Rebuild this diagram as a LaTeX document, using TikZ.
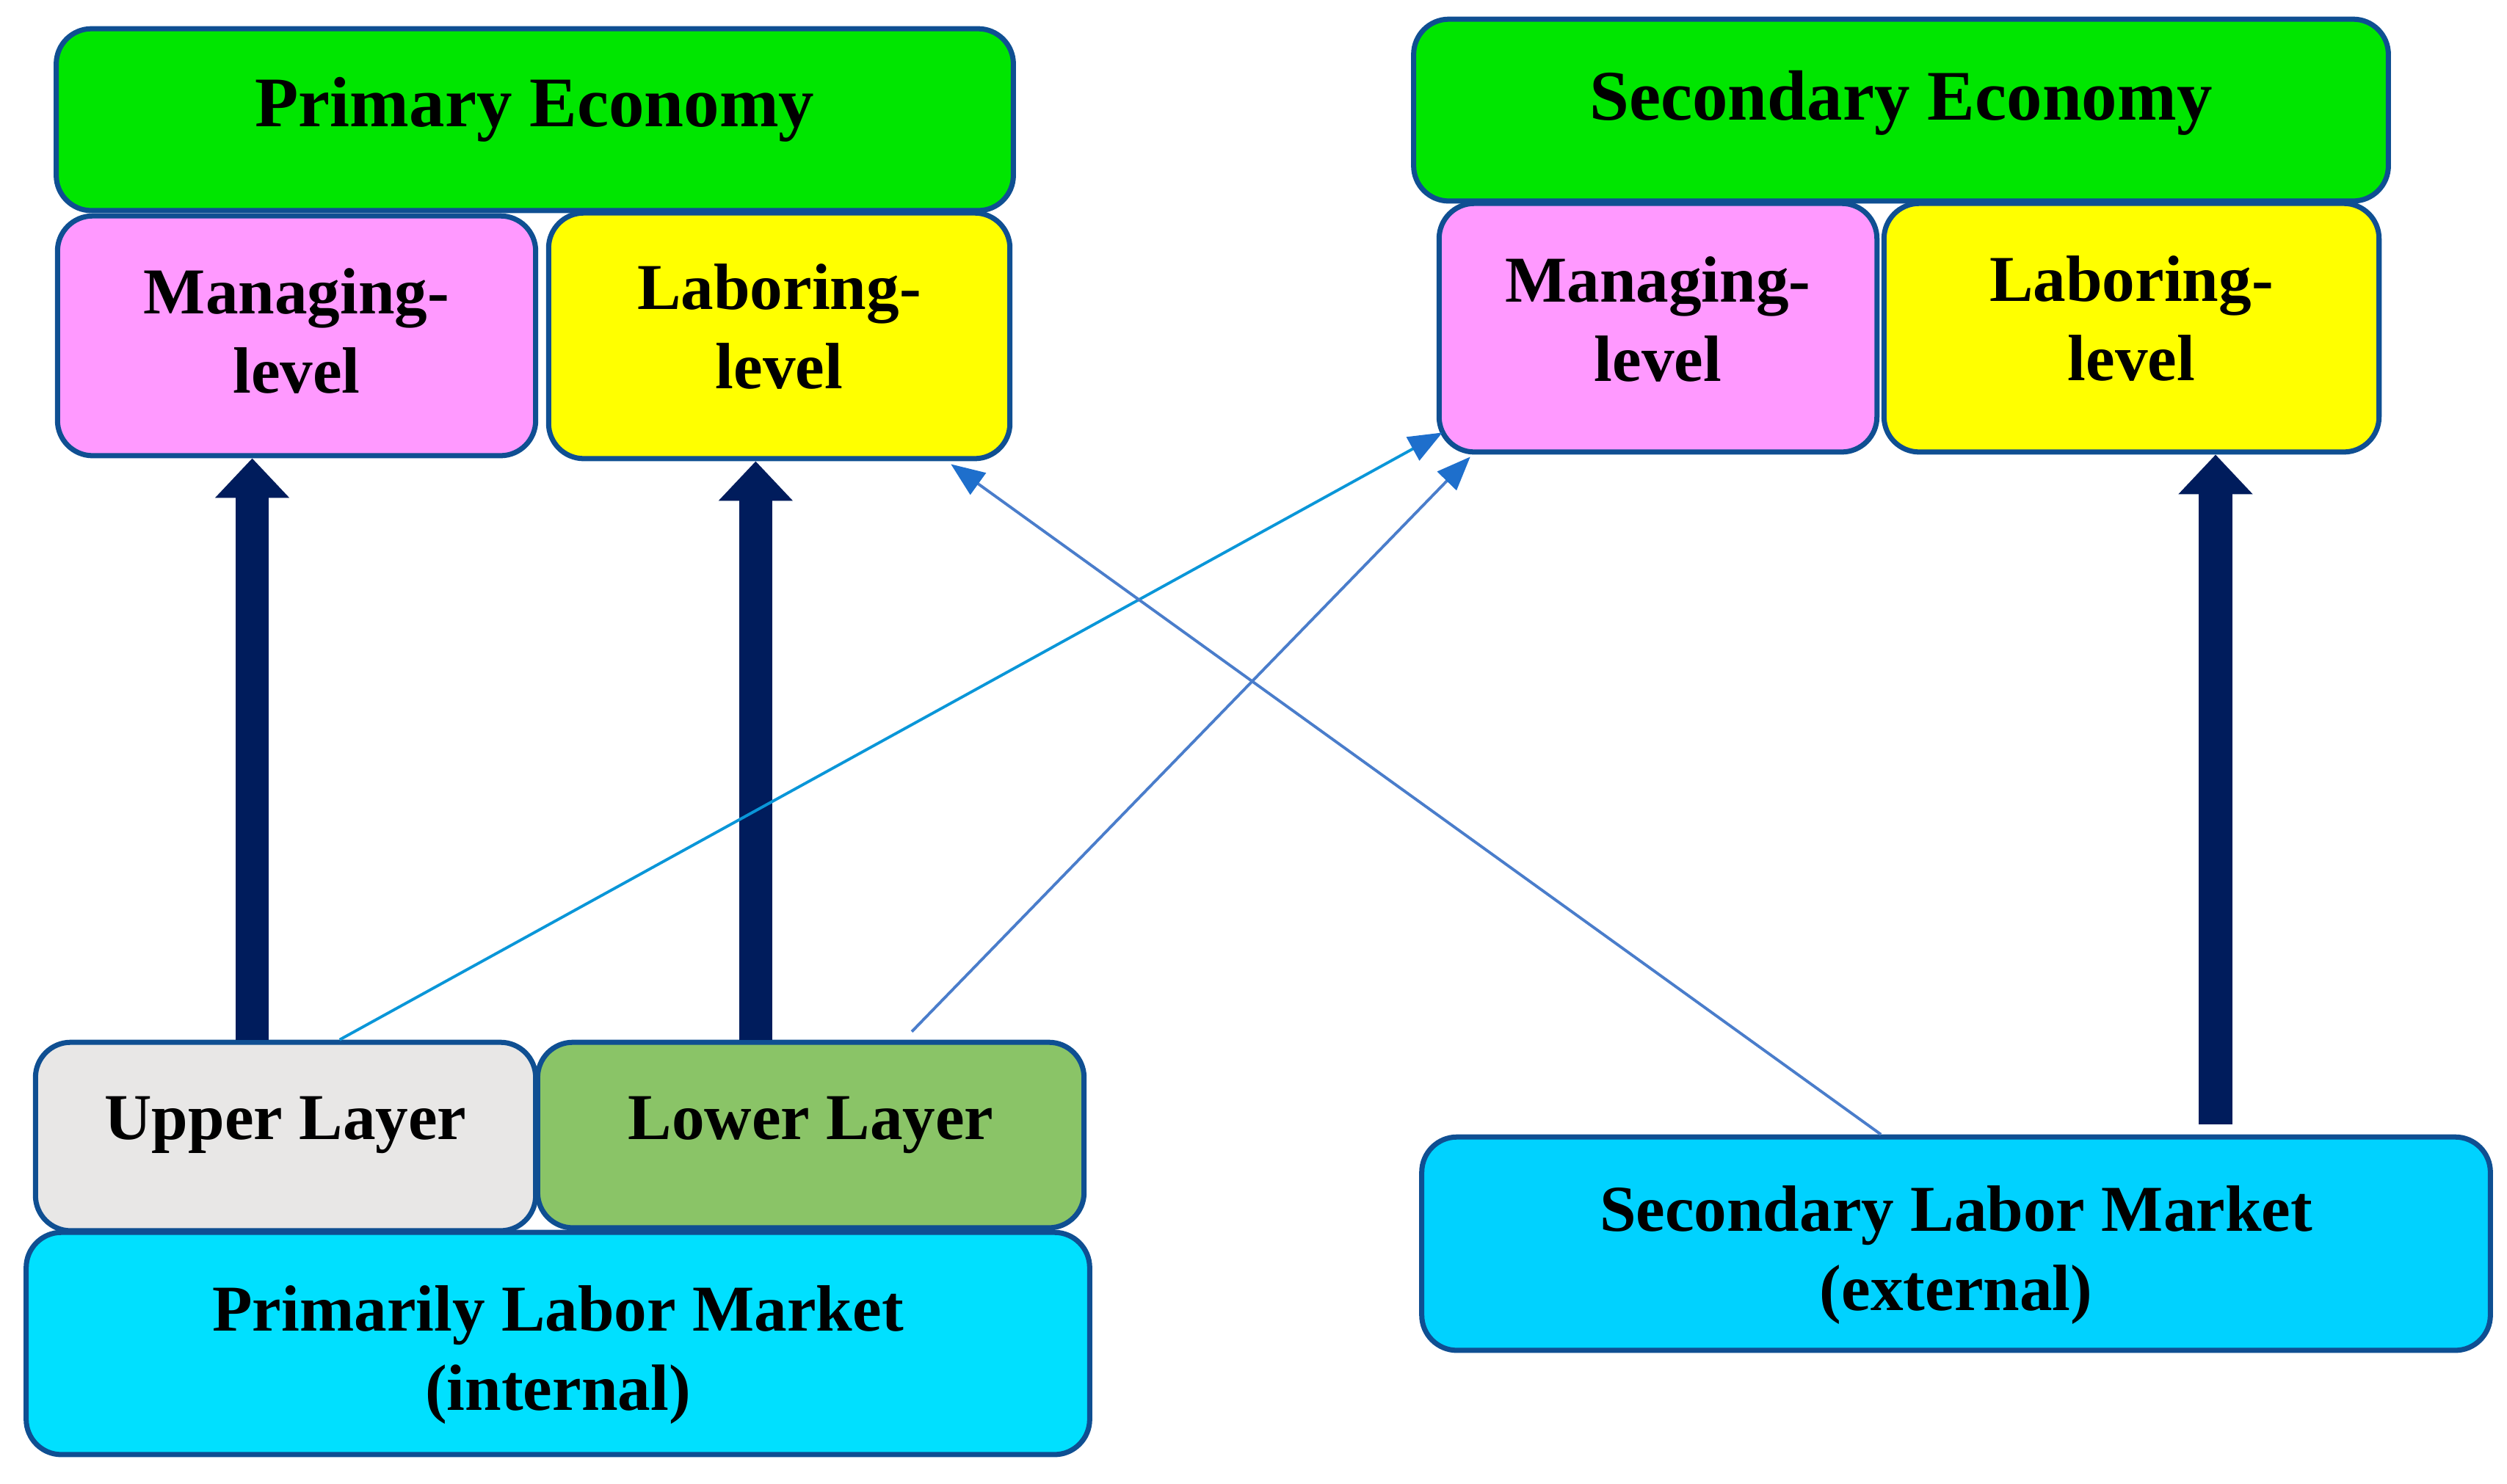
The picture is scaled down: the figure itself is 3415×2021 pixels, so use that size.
\documentclass[tikz,border=0pt]{standalone}
\usepackage{fontspec}
\setmainfont{Liberation Serif}
\usetikzlibrary{arrows.meta,calc}
\definecolor{boxline}{HTML}{0F4F92}
\definecolor{econgreen}{HTML}{00E600}
\definecolor{mangpink}{HTML}{FF99FF}
\definecolor{labyellow}{HTML}{FFFF00}
\definecolor{uppergray}{HTML}{E8E7E6}
\definecolor{lowergreen}{HTML}{8AC467}
\definecolor{marketcyan}{HTML}{00E0FF}
\definecolor{marketcyanb}{HTML}{00D2FF}
\definecolor{navy}{HTML}{001C5C}
\definecolor{linkcyan}{HTML}{0A96D8}
\definecolor{linkblue}{HTML}{4A7DCB}
\definecolor{tipblue}{HTML}{1E6FCC}
\newcommand{\boxtext}[2]{\raisebox{#1}[0pt][0pt]{\begin{tabular}[t]{@{}c@{}}#2\end{tabular}}}
\begin{document}
\begin{tikzpicture}[x=0.005cm,y=-0.005cm,
        box/.style={draw=boxline,line width=1pt,rounded corners=0.24cm,inner sep=0pt,
                font=\bfseries\fontsize{12.7}{15.5}\selectfont},
        head/.style={box,fill=econgreen,minimum height=1.24cm,font=\bfseries\fontsize{13.8}{16}\selectfont},
        bigarrow/.style={draw=navy,line width=6.5pt,-{Triangle[length=0.27cm,width=0.49cm]}},
        thinarrow/.style={line width=0.55pt,-{Triangle[length=0.23cm,width=0.18cm,color=tipblue]}}]
        \useasboundingbox (0,0) rectangle (3415,2021);
        \node[head,minimum width=6.525cm] (peco) at (728.5,163) {\boxtext{-0.045cm}{Primary Economy}};
        \node[box,fill=mangpink,minimum width=3.26cm,minimum height=1.635cm] (pman) at (404,457.5) {\boxtext{0.1525cm}{Managing-\\level}};
        \node[box,fill=labyellow,minimum width=3.145cm,minimum height=1.675cm] (plab) at (1061.5,457.5) {\boxtext{0.1825cm}{Laboring-\\level}};
        \node[head,minimum width=6.645cm] (seco) at (2589.5,150) {\boxtext{-0.065cm}{Secondary Economy}};
        \node[box,fill=mangpink,minimum width=2.985cm,minimum height=1.695cm] (sman) at (2258.5,446.5) {\boxtext{0.1775cm}{Managing-\\level}};
        \node[box,fill=labyellow,minimum width=3.375cm,minimum height=1.695cm] (slab) at (2903.5,446.5) {\boxtext{0.1825cm}{Laboring-\\level}};
        \node[box,fill=uppergray,minimum width=3.41cm,minimum height=1.285cm] (upper) at (389,1548.5) {\boxtext{-0.0175cm}{Upper Layer}};
        \node[box,fill=lowergreen,minimum width=3.725cm,minimum height=1.265cm] (lower) at (1104.5,1546.5) {\boxtext{-0.0275cm}{Lower Layer}};
        \node[box,fill=marketcyan,minimum width=7.25cm,minimum height=1.515cm] (plm) at (760,1830.5) {\boxtext{0.0875cm}{Primarily Labor Market\\(internal)}};
        \node[box,fill=marketcyanb,minimum width=7.285cm,minimum height=1.455cm] (slm) at (2664.5,1694.5) {\boxtext{0.0875cm}{Secondary Labor Market\\(external)}};
        \coordinate (ua) at ($(upper.north west)!0.434!(upper.north east)$);
        \coordinate (la) at ($(lower.north west)!0.4!(lower.north east)$);
        \coordinate (sa) at ($(slab.south west)!0.668!(slab.south east)$);
        \draw[bigarrow] (ua) -- (ua |- pman.south);
        \draw[bigarrow] (la) -- (la |- plab.south);
        \draw[bigarrow] ($(sa |- slm.north)+(0,-14)$) -- (sa);
        \draw[thinarrow,draw=linkcyan] ($(upper.north west)!0.607!(upper.north east)$) -- ($(sman.south west)+(8,-30)$);
        \draw[thinarrow,draw=linkblue] ($(lower.north west)!0.683!(lower.north east)+(0,-11)$) -- ($(sman.south west)+(46,3)$);
        \draw[thinarrow,draw=linkblue] ($(slm.north west)!0.43!(slm.north east)$) -- ($(plab.south east)+(-84,4)$);
\end{tikzpicture}
\end{document}
